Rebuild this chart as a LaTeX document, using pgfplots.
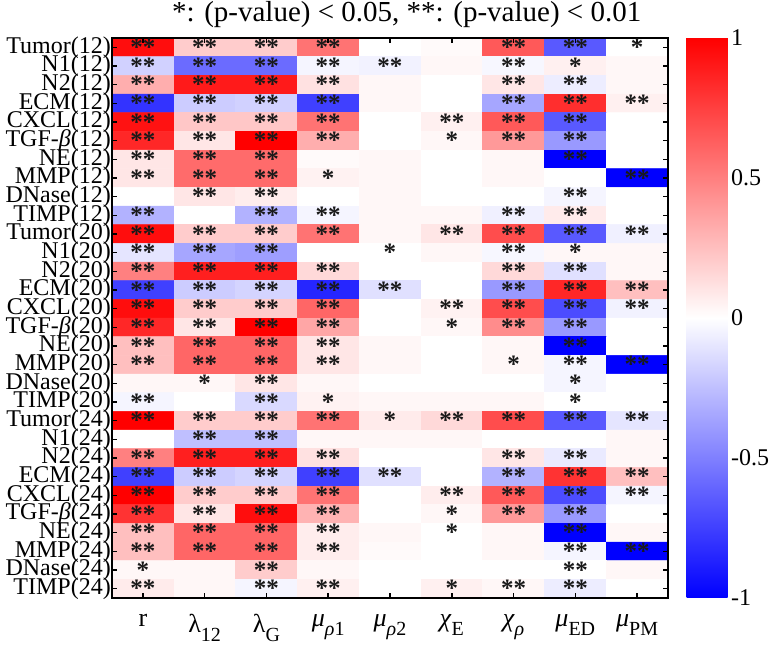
\documentclass[border=0pt]{standalone}
\usepackage{fontspec}
\setmainfont{Liberation Serif}
\usepackage{pgfplots}
\usepackage{pgfplotstable}
\pgfplotsset{compat=1.18}

\newcommand{\lsub}[1]{\raisebox{-9pt}{\fontsize{20}{20}\selectfont #1}}

% x = parameter column, y = row (1 = top), v = correlation, s = significance stars
\pgfplotstableread{
x y v s
1 1 0.95 **
2 1 0.2 **
3 1 0.2 **
4 1 0.55 **
5 1 0 {}
6 1 0.02 {}
7 1 0.65 **
8 1 -0.65 **
9 1 0 *
1 2 -0.18 **
2 2 -0.58 **
3 2 -0.58 **
4 2 -0.04 **
5 2 -0.05 **
6 2 0.03 {}
7 2 -0.03 **
8 2 0.06 *
9 2 0.03 {}
1 3 0.32 **
2 3 0.9 **
3 3 0.9 **
4 3 0.12 **
5 3 0.03 {}
6 3 0 {}
7 3 0.1 **
8 3 -0.07 **
9 3 0.03 {}
1 4 -0.8 **
2 4 -0.2 **
3 4 -0.18 **
4 4 -0.75 **
5 4 0.03 {}
6 4 0 {}
7 4 -0.35 **
8 4 0.82 **
9 4 0.06 **
1 5 0.93 **
2 5 0.22 **
3 5 0.22 **
4 5 0.55 **
5 5 0 {}
6 5 0.06 **
7 5 0.65 **
8 5 -0.65 **
9 5 0 {}
1 6 0.85 **
2 6 0.1 **
3 6 1.0 **
4 6 0.32 **
5 6 0 {}
6 6 0.03 *
7 6 0.4 **
8 6 -0.4 **
9 6 0 {}
1 7 0.1 **
2 7 0.58 **
3 7 0.58 **
4 7 0.02 {}
5 7 0.03 {}
6 7 0 {}
7 7 0.03 {}
8 7 -1 **
9 7 0 {}
1 8 0.1 **
2 8 0.58 **
3 8 0.58 **
4 8 0.05 *
5 8 0.03 {}
6 8 0 {}
7 8 0.03 {}
8 8 0 {}
9 8 -1 **
1 9 0 {}
2 9 0.1 **
3 9 0.07 **
4 9 0 {}
5 9 0.03 {}
6 9 0 {}
7 9 0 {}
8 9 -0.04 **
9 9 0 {}
1 10 -0.3 **
2 10 0 {}
3 10 -0.3 **
4 10 -0.04 **
5 10 0.03 {}
6 10 0.03 {}
7 10 -0.06 **
8 10 0.08 **
9 10 0 {}
1 11 0.95 **
2 11 0.2 **
3 11 0.2 **
4 11 0.55 **
5 11 0.03 {}
6 11 0.1 **
7 11 0.7 **
8 11 -0.65 **
9 11 -0.06 **
1 12 -0.1 **
2 12 -0.35 **
3 12 -0.38 **
4 12 0 {}
5 12 0 *
6 12 0.03 {}
7 12 -0.03 **
8 12 0.03 *
9 12 0.03 {}
1 13 0.5 **
2 13 0.88 **
3 13 0.88 **
4 13 0.15 **
5 13 0 {}
6 13 0 {}
7 13 0.15 **
8 13 -0.12 **
9 13 0.03 {}
1 14 -0.75 **
2 14 -0.2 **
3 14 -0.17 **
4 14 -0.85 **
5 14 -0.12 **
6 14 0 {}
7 14 -0.4 **
8 14 0.85 **
9 14 0.25 **
1 15 0.95 **
2 15 0.2 **
3 15 0.2 **
4 15 0.6 **
5 15 0 {}
6 15 0.05 **
7 15 0.7 **
8 15 -0.7 **
9 15 -0.05 **
1 16 0.85 **
2 16 0.1 **
3 16 1.0 **
4 16 0.35 **
5 16 0 {}
6 16 0.03 *
7 16 0.45 **
8 16 -0.4 **
9 16 0 {}
1 17 0.25 **
2 17 0.6 **
3 17 0.6 **
4 17 0.1 **
5 17 0.03 {}
6 17 0 {}
7 17 0.03 {}
8 17 -1 **
9 17 0 {}
1 18 0.25 **
2 18 0.6 **
3 18 0.6 **
4 18 0.1 **
5 18 0.03 {}
6 18 0 {}
7 18 0.03 *
8 18 -0.04 **
9 18 -1 **
1 19 0.03 {}
2 19 0.03 *
3 19 0.1 **
4 19 0.03 {}
5 19 0 {}
6 19 0 {}
7 19 0 {}
8 19 -0.04 *
9 19 0 {}
1 20 -0.04 **
2 20 0 {}
3 20 -0.15 **
4 20 0.05 *
5 20 0.03 {}
6 20 0.03 {}
7 20 0.03 {}
8 20 0 *
9 20 0 {}
1 21 1.0 **
2 21 0.2 **
3 21 0.2 **
4 21 0.55 **
5 21 0.08 *
6 21 0.15 **
7 21 0.7 **
8 21 -0.65 **
9 21 -0.1 **
1 22 0 {}
2 22 -0.25 **
3 22 -0.25 **
4 22 0.03 {}
5 22 0.03 {}
6 22 0.03 {}
7 22 0 {}
8 22 0 {}
9 22 0.03 {}
1 23 0.5 **
2 23 0.88 **
3 23 0.88 **
4 23 0.12 **
5 23 0 {}
6 23 0 {}
7 23 0.1 **
8 23 -0.08 **
9 23 0.03 {}
1 24 -0.75 **
2 24 -0.2 **
3 24 -0.17 **
4 24 -0.75 **
5 24 -0.12 **
6 24 0 {}
7 24 -0.3 **
8 24 0.8 **
9 24 0.25 **
1 25 1.0 **
2 25 0.2 **
3 25 0.2 **
4 25 0.55 **
5 25 0 {}
6 25 0.07 **
7 25 0.65 **
8 25 -0.7 **
9 25 -0.04 **
1 26 0.8 **
2 26 0.1 **
3 26 0.95 **
4 26 0.3 **
5 26 0 {}
6 26 0.03 *
7 26 0.4 **
8 26 -0.4 **
9 26 0 {}
1 27 0.25 **
2 27 0.6 **
3 27 0.6 **
4 27 0.07 **
5 27 0.03 {}
6 27 0 *
7 27 0.03 {}
8 27 -1 **
9 27 0.03 {}
1 28 0.25 **
2 28 0.6 **
3 28 0.6 **
4 28 0.07 **
5 28 0.02 {}
6 28 0 {}
7 28 0.03 {}
8 28 -0.04 **
9 28 -1 **
1 29 0.03 *
2 29 0.03 {}
3 29 0.2 **
4 29 0.03 {}
5 29 0 {}
6 29 0 {}
7 29 0 {}
8 29 0 **
9 29 0.03 {}
1 30 0.08 **
2 30 0.03 {}
3 30 -0.04 **
4 30 0.06 **
5 30 0 {}
6 30 0.06 *
7 30 0.03 **
8 30 -0.07 **
9 30 0 {}
}\heat

\begin{document}
\begin{tikzpicture}
\useasboundingbox (0,0) rectangle (777pt,653pt);
\begin{axis}[
  at={(112pt,55pt)}, anchor=south west,
  scale only axis, width=556pt, height=560pt,
  xmin=0.5, xmax=9.5, ymin=0.5, ymax=30.5, y dir=reverse,
  axis on top,
  xtick={1,...,9}, ytick={1,...,30},
  xticklabels={r, λ\lsub{12}, λ\lsub{G}, \textit{μ}\lsub{\textit{ρ}1}, \textit{μ}\lsub{\textit{ρ}2},
    \textit{χ}\lsub{E}, \textit{χ}\lsub{\textit{ρ}}, \textit{μ}\lsub{ED}, \textit{μ}\lsub{PM}},
  yticklabels={Tumor(12),N1(12),N2(12),ECM(12),CXCL(12),TGF-\textit{β}(12),NE(12),MMP(12),DNase(12),TIMP(12),
    Tumor(20),N1(20),N2(20),ECM(20),CXCL(20),TGF-\textit{β}(20),NE(20),MMP(20),DNase(20),TIMP(20),
    Tumor(24),N1(24),N2(24),ECM(24),CXCL(24),TGF-\textit{β}(24),NE(24),MMP(24),DNase(24),TIMP(24)},
  xticklabel style={font=\fontsize{26}{26}\selectfont, yshift=-13pt},
  yticklabel style={font=\fontsize{24}{24}\selectfont, inner sep=1pt},
  title={*: (p-value) < 0.05, **: (p-value) < 0.01},
  title style={font=\fontsize{29}{29}\selectfont, at={(0.53,1)}, anchor=south, inner sep=0pt, yshift=4pt},
  axis line style={line width=2pt, black},
  major tick length=5pt,
  tick style={line width=1.6pt, black},
  colormap={bwr}{rgb=(0,0,1) rgb=(1,1,1) rgb=(1,0,0)},
  point meta min=-1, point meta max=1,
  colorbar right,
  colorbar/width=41pt,
  colorbar style={
    width=41pt, xshift=9pt,
    ytick={-1,-0.5,0,0.5,1}, yticklabels={-1,-0.5,0,0.5,1},
    yticklabel style={font=\fontsize{24}{24}\selectfont},
    major tick length=0pt, axis line style={draw=none}
  },
]
\addplot[matrix plot*, mesh/cols=9, point meta=explicit] table[x=x, y=y, meta=v] {\heat};
\addplot[only marks, mark=none, nodes near coords, point meta=explicit symbolic,
  nodes near coords style={anchor=center, font=\fontsize{25}{25}\selectfont\bfseries, text=black!90}]
  table[x=x, y=y, meta=s] {\heat};
\end{axis}
\end{tikzpicture}
\end{document}
